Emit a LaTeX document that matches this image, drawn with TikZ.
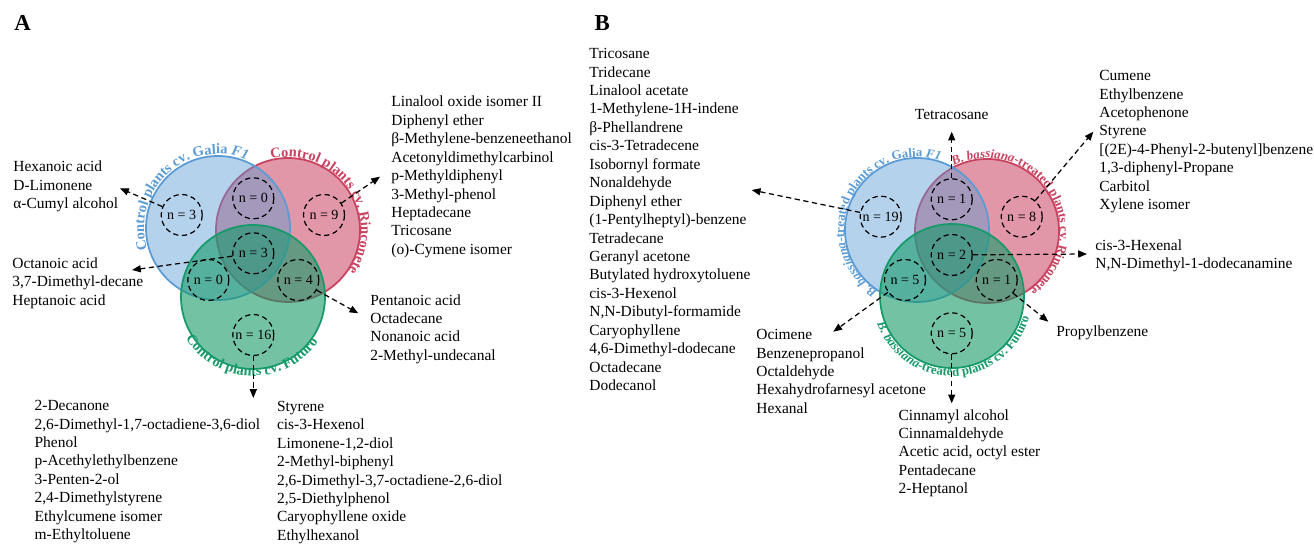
\documentclass[tikz,border=0pt]{standalone}
\usepackage{fontspec}
\setmainfont{Liberation Serif}
\usetikzlibrary{arrows.meta,decorations.text}
\definecolor{galia}{HTML}{5B9BD5}
\definecolor{rincon}{HTML}{C8415F}
\definecolor{futuro}{HTML}{159A68}
\newcommand{\arcfontA}{\fontsize{8.2}{9}\selectfont\bfseries}
\newcommand{\arcfontAi}{\fontsize{8.2}{9}\selectfont\bfseries\itshape}
\newcommand{\arcfontB}{\fontsize{7.3}{8}\selectfont\bfseries}
\newcommand{\arcfontBi}{\fontsize{7.3}{8}\selectfont\bfseries\itshape}

\begin{document}
\begin{tikzpicture}[x=0.02cm,y=0.02cm,
  venn/.style={circle,draw,line width=1pt,inner sep=0pt,minimum size=2.88cm},
  subset/.style={circle,draw,dash pattern=on 3pt off 2pt,line width=0.7pt,inner sep=0pt,minimum size=0.82cm,font=\fontsize{8}{9}\selectfont},
  pointer/.style={dash pattern=on 3pt off 2pt,line width=0.7pt,-{Triangle[length=5pt,width=4pt]}},
  clist/.style={align=left,inner sep=0pt,anchor=north west,font=\fontsize{8.8}{10.5}\selectfont},
  panel/.style={font=\fontsize{13}{15}\selectfont\bfseries},
  arclabel/.style={decorate,decoration={text along path,text align=center,text color=#1}}]
  \useasboundingbox (0,0) rectangle (1314,-546);
  \node[panel] (panelA) at (22.7,-23.3) {A};
  \node[panel] (panelB) at (602.3,-23.3) {B};

  \node[venn,draw=rincon,fill=rincon,fill opacity=0.55] (rinA) at (288,-230) {};
  \node[venn,draw=galia,fill=galia,fill opacity=0.45] (galA) at (218,-228) {};
  \node[venn,draw=futuro,fill=futuro,fill opacity=0.6] (futA) at (253,-297) {};
  \path[arclabel=galia,decoration={text={|\arcfontA|Control plants cv. Galia |\arcfontAi|F1}}]
    (galA.center) ++(237:74) arc[start angle=237,end angle=27,radius=74];
  \path[arclabel=rincon,decoration={text={|\arcfontA|Control plants cv. Rinconete}}]
    (rinA.center) ++(144.5:73) arc[start angle=144.5,end angle=-75.5,radius=73];
  \path[arclabel=futuro,decoration={text={|\arcfontA|Control plants cv. Futuro}}]
    (futA.center) ++(158.5:79) arc[start angle=158.5,end angle=378.5,radius=79];

  \node[subset] (a1) at (181.7,-215) {n = 3};
  \node[subset] (a2) at (253.3,-198.3) {n = 0};
  \node[subset] (a3) at (324,-215) {n = 9};
  \node[subset] (a4) at (253.3,-253.3) {n = 3};
  \node[subset] (a5) at (208.3,-280) {n = 0};
  \node[subset] (a6) at (298.3,-280) {n = 4};
  \node[subset] (a7) at (253.3,-335) {n = 16};

  \node[clist] (la1) at (13,-160.7) {Hexanoic acid\\D-Limonene\\α-Cumyl alcohol};
  \node[clist] (la4) at (12,-257.3) {Octanoic acid\\3,7-Dimethyl-decane\\Heptanoic acid};
  \node[clist] (la3) at (391,-95.7) {Linalool oxide isomer II\\Diphenyl ether\\β-Methylene-benzeneethanol\\Acetonyldimethylcarbinol\\p-Methyldiphenyl\\3-Methyl-phenol\\Heptadecane\\Tricosane\\(o)-Cymene isomer};
  \node[clist] (la6) at (370,-294) {Pentanoic acid\\Octadecane\\Nonanoic acid\\2-Methyl-undecanal};
  \node[clist] (la7) at (34.3,-400) {2-Decanone\\2,6-Dimethyl-1,7-octadiene-3,6-diol\\Phenol\\p-Acethylethylbenzene\\3-Penten-2-ol\\2,4-Dimethylstyrene\\Ethylcumene isomer\\m-Ethyltoluene};
  \node[clist] (la8) at (276.7,-400.7) {Styrene\\cis-3-Hexenol\\Limonene-1,2-diol\\2-Methyl-biphenyl\\2,6-Dimethyl-3,7-octadiene-2,6-diol\\2,5-Diethylphenol\\Caryophyllene oxide\\Ethylhexanol};

  \coordinate (a1tip) at (120,-188.3);
  \coordinate (a3tip) at (380,-176.7);
  \coordinate (a4tip) at (132,-270);
  \coordinate (a6tip) at (358.3,-313.3);
  \coordinate (a7tip) at (253.3,-398);
  \draw[pointer] (a1) -- (a1tip);
  \draw[pointer] (a3) -- (a3tip);
  \draw[pointer] (a4) -- (a4tip);
  \draw[pointer] (a6) -- (a6tip);
  \draw[pointer] (a7) -- (a7tip);

  \node[venn,draw=rincon,fill=rincon,fill opacity=0.55] (rinB) at (987,-231) {};
  \node[venn,draw=galia,fill=galia,fill opacity=0.45] (galB) at (917,-230) {};
  \node[venn,draw=futuro,fill=futuro,fill opacity=0.6] (futB) at (952,-296) {};
  \path[arclabel=galia,decoration={text={|\arcfontBi|B. bassiana|\arcfontB|-treated plants cv. Galia |\arcfontBi|F1}}]
    (galB.center) ++(264.5:73) arc[start angle=264.5,end angle=44.5,radius=73];
  \path[arclabel=rincon,decoration={text={|\arcfontBi|B. bassiana|\arcfontB|-treated plants cv. Rinconete}}]
    (rinB.center) ++(141.5:73) arc[start angle=141.5,end angle=-78.5,radius=73];
  \path[arclabel=futuro,decoration={text={|\arcfontBi|B. bassiana|\arcfontB|-treated plants cv. Futuro}}]
    (futB.center) ++(162.5:80) arc[start angle=162.5,end angle=382.5,radius=80];

  \node[subset] (b1) at (880.7,-216.7) {n = 19};
  \node[subset] (b2) at (951.7,-199.3) {n = 1};
  \node[subset] (b3) at (1021.7,-216.7) {n = 8};
  \node[subset] (b4) at (951.7,-255) {n = 2};
  \node[subset] (b5) at (905,-280) {n = 5};
  \node[subset] (b6) at (996.7,-280) {n = 1};
  \node[subset] (b7) at (951.7,-333.3) {n = 5};

  \node[font=\fontsize{8.8}{10.5}\selectfont] (lb2) at (951.7,-115) {Tetracosane};
  \node[clist] (lb1) at (589,-48) {Tricosane\\Tridecane\\Linalool acetate\\1-Methylene-1H-indene\\β-Phellandrene\\cis-3-Tetradecene\\Isobornyl formate\\Nonaldehyde\\Diphenyl ether\\(1-Pentylheptyl)-benzene\\Tetradecane\\Geranyl acetone\\Butylated hydroxytoluene\\cis-3-Hexenol\\N,N-Dibutyl-formamide\\Caryophyllene\\4,6-Dimethyl-dodecane\\Octadecane\\Dodecanol};
  \node[clist] (lb3) at (1099,-70) {Cumene\\Ethylbenzene\\Acetophenone\\Styrene\\{[}(2E)-4-Phenyl-2-butenyl{]}benzene\\1,3-diphenyl-Propane\\Carbitol\\Xylene isomer};
  \node[clist] (lb4) at (1095,-239) {cis-3-Hexenal\\N,N-Dimethyl-1-dodecanamine};
  \node[clist] (lb6) at (1056,-325.7) {Propylbenzene};
  \node[clist] (lb5) at (756,-329) {Ocimene\\Benzenepropanol\\Octaldehyde\\Hexahydrofarnesyl acetone\\Hexanal};
  \node[clist] (lb7) at (898.3,-409) {Cinnamyl alcohol\\Cinnamaldehyde\\Acetic acid, octyl ester\\Pentadecane\\2-Heptanol};

  \coordinate (b1tip) at (751.7,-190);
  \coordinate (b2tip) at (951.7,-131.7);
  \coordinate (b3tip) at (1093.3,-131.7);
  \coordinate (b4tip) at (1087,-254);
  \coordinate (b5tip) at (833.3,-331.7);
  \coordinate (b6tip) at (1048.3,-321.7);
  \coordinate (b7tip) at (951.7,-403.3);
  \draw[pointer] (b1) -- (b1tip);
  \draw[pointer] (b2) -- (b2tip);
  \draw[pointer] (b3) -- (b3tip);
  \draw[pointer] (b4) -- (b4tip);
  \draw[pointer] (b5) -- (b5tip);
  \draw[pointer] (b6) -- (b6tip);
  \draw[pointer] (b7) -- (b7tip);
\end{tikzpicture}
\end{document}
